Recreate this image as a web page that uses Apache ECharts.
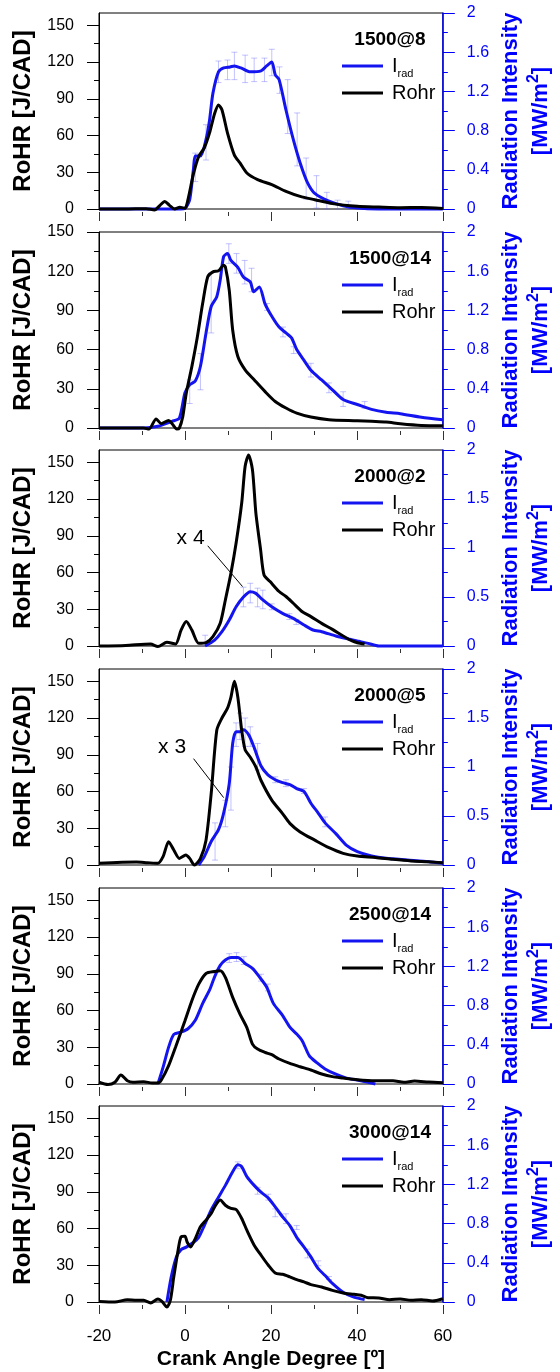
<!DOCTYPE html>
<html>
<head>
<meta charset="utf-8">
<title>RoHR and radiation intensity vs crank angle</title>
<script src="https://cdn.jsdelivr.net/npm/echarts@6/dist/echarts.min.js"></script>
<style>
  html, body { margin: 0; padding: 0; background: #fff; }
  #chart { width: 560px; height: 1372px; }
</style>
</head>
<body>
<div id="chart"></div>
<script>
// Operating points (speed@load), one panel each
const panelTitles = ['1500@8', '1500@14', '2000@2', '2000@5', '2500@14', '3000@14'];
const rohrAxisMax = [160, 150, 160, 160, 160, 160];
const radAxisInterval = [0.4, 0.4, 0.5, 0.5, 0.4, 0.4];
const rohrMajorTicks = [0, 30, 60, 90, 120, 150];
const rohrMinorTicks = [15, 45, 75, 105, 135];

// Rate of heat release [J/CAD] vs crank angle [deg]
const rohr1500at8 = [[-20,0],[-14,0],[-9,0.3],[-7.1,-0.8],[-5.8,3],[-4.7,6.2],[-3.6,3],[-2.4,0],[-1.2,1.4],[0,0.6],[0.7,7.6],[2.0,29],[3.2,43],[4.5,50],[5.7,62],[6.9,78],[7.8,85],[8.6,81],[9.9,62],[11.5,44],[12.8,37.6],[14.4,29.4],[16.9,24],[20.2,19.9],[23.5,14.4],[26.8,10.3],[30.2,7.6],[34.3,4.4],[40.1,2.2],[45.1,1.6],[50.1,1.1],[55,1.3],[60,0.5]];
const rohr1500at14 = [[-20,0],[-9.6,0],[-8.4,-0.8],[-6.7,6.9],[-5.5,3.3],[-3.8,5.8],[-3.0,3.3],[-1.9,-0.8],[-1.3,0],[-0.5,8.9],[0.3,26.7],[1.6,47],[2.9,70],[4.1,95],[5.3,115.7],[6.5,119.5],[7.8,120.3],[9.0,124.6],[9.4,123.4],[10.3,105.5],[11.1,75],[12.3,54.7],[14.0,44.5],[16.1,36.9],[18.6,28],[21.0,20.3],[23.5,15.3],[26.0,11.4],[29.3,8.4],[33.5,6.4],[40.1,5.6],[43.4,5.1],[46.8,4.6],[50.1,3.3],[55,2],[60,1.8]];
const rohr2000at2 = [[-20,0],[-13.8,0.5],[-8,1.6],[-6.3,-0.5],[-4.2,3],[-2.2,1.6],[-0.9,13],[0.3,20],[1.6,13],[3.2,2.2],[4.9,2.7],[6.5,7.6],[8.2,18.5],[9.4,37.6],[10.7,59.5],[11.9,84],[13.2,116.7],[14.0,146.7],[14.8,156],[15.7,144],[16.5,108.5],[17.6,78.5],[18.4,58],[19.8,52.6],[21.9,44.5],[23.5,40.4],[25.2,34.9],[27.3,28],[29.3,24],[31.8,18.5],[34.3,13.6],[36.8,8.2],[38.9,4.1],[40.1,2.7],[41.8,1.6]];
const rohr2000at5 = [[-20,1.4],[-14.6,2.2],[-11.3,2.4],[-8.8,1.9],[-6.3,1.4],[-5.1,6.8],[-3.8,19],[-2.6,12.2],[-1.3,5.4],[0.2,8.1],[1.1,5.4],[2.2,0],[3.6,5.4],[4.9,20.3],[6.1,58.3],[7.4,110],[8.6,120],[9.9,128],[10.7,137],[11.5,150],[12.3,137],[13.2,110],[14.0,94],[15.2,88],[16.5,80],[17.7,69],[20.2,53],[22.7,42],[24.4,34],[26.8,27],[30.2,20.3],[33.5,14.1],[36.8,9.5],[40.1,7.3],[44.3,6.2],[48.4,4.6],[52.6,3.3],[56.7,2.7],[60,1.9]];
const rohr2500at14 = [[-20,1.4],[-17.9,-0.5],[-16.3,1.4],[-14.9,7.3],[-13.4,2.7],[-12.1,1.4],[-9.6,1.9],[-7.6,0.8],[-6.3,0.8],[-5.5,3.3],[-3.8,15],[-2.2,30],[0,51.6],[1.6,68],[3.2,81.5],[4.9,90.2],[6.9,91.8],[8.2,92.4],[9.4,87],[11.1,70.7],[12.8,57],[14.4,46],[15.7,32.6],[16.9,28.5],[18.6,25.8],[20.2,23.9],[21.9,20.4],[24.4,16.8],[26.8,14.1],[29.3,11.4],[31.8,8.2],[34.3,6],[36.8,4.9],[40.1,3.5],[44.3,2.7],[48.4,2.7],[50.9,1.4],[53.4,2.4],[56.7,1.6],[60,1.1]];
const rohr3000at14 = [[-20,0.5],[-16.3,0],[-13.4,1.9],[-11.3,1.4],[-9.6,1.4],[-8.0,-0.8],[-6.3,2.5],[-5.3,0.3],[-4.2,-4.1],[-3.4,1.4],[-2.6,20.5],[-1.6,42.3],[-0.9,53.2],[0,53.7],[0.5,49],[1.3,45],[2.4,51.8],[3.6,61.4],[4.9,66.8],[6.1,72.3],[6.9,77.7],[8.2,83.2],[9.4,79],[10.7,76.4],[11.9,75.5],[13.2,68.2],[14.4,58.6],[16.1,46.4],[17.7,38.2],[19.4,30],[21.0,23.7],[22.7,22.6],[24.4,20.5],[26.0,18.3],[27.7,16.4],[29.3,14.2],[31.8,12.3],[34.3,9.5],[36.8,7.4],[39.3,6.3],[41.0,5.5],[42.6,3.5],[45.1,3.3],[47.6,1.9],[50.1,2.5],[52.6,1.4],[55.0,1.9],[57.6,0.8],[60,2.7]];

// Radiation intensity [MW/m2] vs crank angle [deg]
const irad1500at8 = [[-20,0],[-1,0],[0,0.005],[1.1,0.095],[2.0,0.42],[2.4,0.54],[3.6,0.54],[4.9,0.71],[5.7,0.9],[6.5,1.18],[7.8,1.40],[9.0,1.44],[10.5,1.45],[11.5,1.46],[13,1.44],[15.2,1.40],[17.7,1.41],[19.0,1.46],[20.2,1.50],[21.0,1.37],[21.9,1.32],[23.5,1.01],[25.2,0.71],[26.8,0.47],[28.5,0.27],[30.2,0.16],[33.5,0.08],[36.8,0.034],[40.1,0.01],[45,0],[60,0]];
const irad1500at14 = [[-20,0],[-9.6,0],[-6.3,0.017],[-3.0,0.068],[-1.3,0.10],[0,0.36],[1.1,0.44],[2.4,0.48],[3.6,0.63],[4.9,0.97],[6.1,1.24],[7.4,1.34],[8.2,1.51],[9.0,1.75],[9.9,1.78],[10.7,1.71],[12.3,1.64],[13.6,1.54],[15.2,1.49],[16.0,1.39],[17.3,1.44],[18.6,1.27],[20.2,1.14],[21.9,1.03],[23.5,0.97],[24.8,0.92],[26.0,0.80],[27.7,0.69],[29.3,0.59],[31.8,0.49],[34.3,0.39],[36.8,0.29],[40.1,0.24],[43.4,0.19],[46.8,0.16],[50.1,0.146],[55,0.11],[60,0.085]];
const irad2000at2 = [[4.7,0],[6.9,0.06],[8.6,0.146],[10.3,0.265],[11.9,0.40],[13.6,0.50],[15.2,0.554],[16.5,0.537],[17.7,0.486],[20.2,0.40],[22.7,0.333],[25.2,0.282],[27.7,0.214],[29.8,0.163],[31.8,0.146],[35.1,0.102],[38.4,0.068],[40.1,0.051],[42.6,0.027],[45.1,0],[60,0]];
const irad2000at5 = [[3.2,0],[4.5,0.085],[6.1,0.24],[7.8,0.36],[9.0,0.53],[10.3,0.83],[11.1,1.24],[11.9,1.36],[12.8,1.36],[13.6,1.38],[14.8,1.33],[16.0,1.21],[17.7,1.01],[19.3,0.92],[21.0,0.87],[22.7,0.84],[24.4,0.82],[26.0,0.78],[27.7,0.75],[29.3,0.63],[31.0,0.53],[32.6,0.43],[35.1,0.32],[37.6,0.20],[40.1,0.136],[43.4,0.092],[46.8,0.068],[51.7,0.051],[56.7,0.034],[60,0.017]];
const irad2500at14 = [[-6.3,0],[-5.1,0.17],[-3.8,0.376],[-2.6,0.506],[-0.9,0.53],[0.7,0.564],[2.4,0.65],[4.1,0.82],[5.7,0.957],[6.9,1.094],[8.2,1.21],[9.4,1.265],[10.7,1.29],[12.3,1.29],[14.0,1.23],[15.7,1.18],[17.3,1.094],[19.0,0.99],[20.6,0.82],[22.7,0.70],[24.4,0.58],[26.0,0.51],[27.3,0.44],[28.9,0.29],[30.6,0.22],[32.6,0.154],[35.1,0.10],[37.6,0.06],[40.1,0.04],[42.6,0.017],[44.3,0]];
const irad3000at14 = [[-4.2,0],[-3.2,0.255],[-2.0,0.46],[-0.9,0.535],[0.3,0.56],[2.0,0.61],[3.2,0.66],[4.5,0.78],[6.1,0.94],[7.8,1.07],[9.4,1.19],[11.1,1.33],[12.3,1.40],[13.2,1.38],[14.4,1.28],[16.1,1.19],[17.7,1.12],[19.4,1.06],[21.0,0.97],[22.7,0.87],[24.4,0.78],[26.0,0.66],[27.7,0.56],[29.3,0.46],[31.0,0.34],[32.6,0.27],[34.3,0.19],[36.8,0.10],[39.3,0.05],[41.8,0.024]];

// Radiation intensity spread: [crank angle, low, high] in MW/m2
const spread1500at8 = [[2.4,0.28,0.57],[4.9,0.50,0.86],[7.8,1.29,1.51],[9.9,1.32,1.52],[11.5,1.32,1.60],[14.0,1.29,1.57],[16.1,1.30,1.54],[18.5,1.30,1.54],[20.2,1.36,1.63],[22.0,1.18,1.45],[23.9,0.77,1.32],[26.1,0.44,0.98],[28.2,0.10,0.52],[30.6,0.01,0.34],[33.0,0,0.17],[35.5,0,0.09],[38.0,0,0.08]];
const spread1500at14 = [[1.1,0.25,0.49],[3.6,0.39,0.76],[6.1,0.97,1.58],[10.2,1.68,1.88],[12.0,1.58,1.78],[13.9,1.47,1.71],[15.5,1.39,1.63],[19.1,1.20,1.27],[22.8,0.93,1.03],[25.3,0.76,0.83],[29.3,0.52,0.66],[33.5,0.36,0.46],[36.8,0.22,0.37],[41.8,0.20,0.27]];
const spread2000at2 = [[4.7,0,0.11],[13.6,0.40,0.60],[15.2,0.44,0.64],[16.9,0.40,0.59],[18.1,0.38,0.57],[20.2,0.37,0.43],[24.3,0.27,0.33],[25.9,0.22,0.27]];
const spread2000at5 = [[7.0,0.05,0.43],[9.4,0.39,0.66],[10.7,0.56,1.0],[11.9,1.21,1.45],[12.8,1.28,1.55],[14.0,1.21,1.50],[15.2,1.21,1.41],[16.9,0.97,1.24],[21.0,0.84,0.90],[23.5,0.80,0.87],[27.7,0.73,0.78],[32.6,0.39,0.49]];
const spread2500at14 = [[10.3,1.24,1.33],[12.0,1.25,1.34],[13.7,1.22,1.30],[17.7,1.05,1.12],[19.3,0.95,1.02]];
const spread3000at14 = [[12.3,1.36,1.43],[16.9,1.10,1.17],[19.4,1.04,1.10],[21.0,0.87,0.95],[23.5,0.80,0.90],[26.0,0.74,0.78],[28.5,0.45,0.54],[31.0,0.37,0.42],[33.5,0.23,0.26]];

// Scale-factor notes on the low-load panels: label anchor and leader line (RoHR axis units)
const scaleNote2000at2 = { text: 'x 4', at: [1.3, 88], leader: [[5.3, 81.8], [13.4, 48.5]] };
const scaleNote2000at5 = { text: 'x 3', at: [-3.0, 96.3], leader: [[2.0, 86.8], [9.0, 55]] };

const rohrSets = [rohr1500at8, rohr1500at14, rohr2000at2, rohr2000at5, rohr2500at14, rohr3000at14];
const iradSets = [irad1500at8, irad1500at14, irad2000at2, irad2000at5, irad2500at14, irad3000at14];
const spreadSets = [spread1500at8, spread1500at14, spread2000at2, spread2000at5, spread2500at14, spread3000at14];
const scaleNotes = [null, null, scaleNote2000at2, scaleNote2000at5, null, null];

const FONT = '"Liberation Sans", Arial, Helvetica, sans-serif';
const BLUE_AXIS = '#0000ff';
const BLUE_LINE = '#1414f0';
const SPREAD_COLOR = 'rgba(95, 95, 255, 0.38)';
const gridTops = [13, 232, 450, 669, 888, 1106];
const gridHeight = 196;
const gridLeft = 99;
const gridWidth = 344;

const grids = [], xAxes = [], yAxes = [], series = [], legends = [], graphics = [];

panelTitles.forEach((title, i) => {
  const top = gridTops[i];
  const isLast = i === panelTitles.length - 1;
  grids.push({ left: gridLeft, top: top, width: gridWidth, height: gridHeight,
    show: true, borderColor: '#000', borderWidth: 1, backgroundColor: 'transparent' });

  xAxes.push({
    type: 'value', gridIndex: i, min: -20, max: 60, interval: 20, offset: 3,
    axisLine: { show: false, onZero: false },
    axisTick: { show: true, inside: false, length: 9, lineStyle: { color: '#333', width: 1 } },
    minorTick: { show: true, splitNumber: 2, length: 4, lineStyle: { color: '#333', width: 1 } },
    splitLine: { show: false },
    axisLabel: { show: isLast, fontSize: 17, color: '#000', margin: 23, fontFamily: FONT },
    name: isLast ? 'Crank Angle Degree [º]' : '',
    nameLocation: 'middle', nameGap: 44,
    nameTextStyle: { fontSize: 21, fontWeight: 'bold', color: '#000', fontFamily: FONT }
  });

  // RoHR axis (major ticks + labels)
  yAxes.push({
    type: 'value', gridIndex: i, position: 'left', min: 0, max: rohrAxisMax[i], interval: 30,
    axisLine: { show: true, onZero: false, lineStyle: { color: '#000', width: 1 } },
    axisTick: { show: true, inside: false, length: 12, customValues: rohrMajorTicks, lineStyle: { color: '#000', width: 1 } },
    axisLabel: { fontSize: 16, color: '#000', margin: 25, customValues: rohrMajorTicks, fontFamily: FONT },
    splitLine: { show: false },
    name: 'RoHR [J/CAD]', nameLocation: 'middle', nameRotate: 90, nameGap: 57,
    nameTextStyle: { fontSize: 24, fontWeight: 'bold', color: '#000', fontFamily: FONT, lineHeight: 26 }
  });
  // RoHR axis minor ticks
  yAxes.push({
    type: 'value', gridIndex: i, position: 'left', min: 0, max: rohrAxisMax[i], interval: 30,
    axisLine: { show: false, onZero: false },
    axisTick: { show: true, inside: false, length: 5, customValues: rohrMinorTicks, lineStyle: { color: '#000', width: 1 } },
    axisLabel: { show: false },
    splitLine: { show: false }
  });
  // Radiation intensity axis
  yAxes.push({
    type: 'value', gridIndex: i, position: 'right', min: 0, max: 2, interval: radAxisInterval[i],
    axisLine: { show: true, onZero: false, lineStyle: { color: BLUE_AXIS, width: 1.5 } },
    axisTick: { show: true, inside: false, length: 12, lineStyle: { color: BLUE_AXIS, width: 1 } },
    minorTick: { show: true, splitNumber: 2, length: 5, lineStyle: { color: BLUE_AXIS, width: 1 } },
    axisLabel: { fontSize: 16, color: BLUE_AXIS, margin: 24, fontFamily: FONT },
    splitLine: { show: false },
    name: '{t|Radiation Intensity}\n{t|[MW/m}{s|2}{t|]}',
    nameLocation: 'middle', nameRotate: 90, nameGap: 52,
    nameTextStyle: {
      color: BLUE_AXIS, fontWeight: 'bold', fontSize: 22, fontFamily: FONT,
      rich: {
        t: { color: BLUE_AXIS, fontWeight: 'bold', fontSize: 22, lineHeight: 30, fontFamily: FONT },
        s: { color: BLUE_AXIS, fontWeight: 'bold', fontSize: 16, lineHeight: 18, verticalAlign: 'top', fontFamily: FONT }
      }
    }
  });

  const yLeft = 3 * i, yRight = 3 * i + 2;

  series.push({
    type: 'custom', name: 'spread', xAxisIndex: i, yAxisIndex: yRight, silent: true, z: 1,
    data: spreadSets[i],
    encode: { x: 0, y: [1, 2] },
    renderItem: (params, api) => {
      const x = api.value(0);
      const lo = api.coord([x, api.value(1)]);
      const hi = api.coord([x, api.value(2)]);
      const cap = 3;
      const st = { stroke: SPREAD_COLOR, lineWidth: 1 };
      return {
        type: 'group',
        children: [
          { type: 'line', shape: { x1: lo[0], y1: lo[1], x2: hi[0], y2: hi[1] }, style: st },
          { type: 'line', shape: { x1: lo[0] - cap, y1: lo[1], x2: lo[0] + cap, y2: lo[1] }, style: st },
          { type: 'line', shape: { x1: hi[0] - cap, y1: hi[1], x2: hi[0] + cap, y2: hi[1] }, style: st }
        ]
      };
    }
  });

  series.push({
    type: 'line', name: 'I_rad', xAxisIndex: i, yAxisIndex: yRight, data: iradSets[i],
    showSymbol: false, smooth: 0.25, clip: false, silent: true, z: 3,
    lineStyle: { color: BLUE_LINE, width: 3 }, itemStyle: { color: BLUE_LINE }
  });
  series.push({
    type: 'line', name: 'Rohr', xAxisIndex: i, yAxisIndex: yLeft, data: rohrSets[i],
    showSymbol: false, smooth: 0.25, clip: false, silent: true, z: 4,
    lineStyle: { color: '#000', width: 3 }, itemStyle: { color: '#000' }
  });

  const note = scaleNotes[i];
  if (note) {
    series.push({
      type: 'line', name: 'scale note line', xAxisIndex: i, yAxisIndex: yLeft, data: note.leader,
      showSymbol: false, silent: true, z: 5, lineStyle: { color: '#000', width: 1 }
    });
    series.push({
      type: 'custom', name: 'scale note', xAxisIndex: i, yAxisIndex: yLeft, data: [note.at],
      silent: true, z: 5, encode: { x: 0, y: 1 },
      renderItem: (params, api) => {
        const p = api.coord([api.value(0), api.value(1)]);
        return {
          type: 'text', x: p[0], y: p[1],
          style: { text: note.text, fill: '#000', fontSize: 21, fontFamily: FONT,
            align: 'center', verticalAlign: 'middle' }
        };
      }
    });
  }

  legends.push({
    left: 342, top: top + 43, orient: 'vertical', padding: 0,
    itemWidth: 41, itemHeight: 3, itemGap: 4, icon: 'rect', selectedMode: false,
    data: ['I_rad', 'Rohr'],
    formatter: (name) => name === 'I_rad' ? '{m|I}{s|rad}' : '{m|Rohr}',
    textStyle: {
      fontFamily: FONT, color: '#000',
      rich: {
        m: { fontSize: 20, lineHeight: 26, color: '#000', fontFamily: FONT, padding: [0, 0, 0, 4] },
        s: { fontSize: 11, lineHeight: 11, verticalAlign: 'bottom', color: '#000', fontFamily: FONT }
      }
    }
  });

  graphics.push({
    type: 'text', x: 390, y: top + 27, silent: true, z: 10,
    style: { text: title, fontSize: 19, fontWeight: 'bold', fontFamily: FONT, fill: '#000',
      align: 'center', verticalAlign: 'middle' }
  });
});

const chart = echarts.init(document.getElementById('chart'), null, { renderer: 'canvas' });
chart.setOption({
  animation: false,
  backgroundColor: '#fff',
  textStyle: { fontFamily: FONT },
  grid: grids,
  xAxis: xAxes,
  yAxis: yAxes,
  legend: legends,
  graphic: graphics,
  series: series
});
</script>
</body>
</html>
